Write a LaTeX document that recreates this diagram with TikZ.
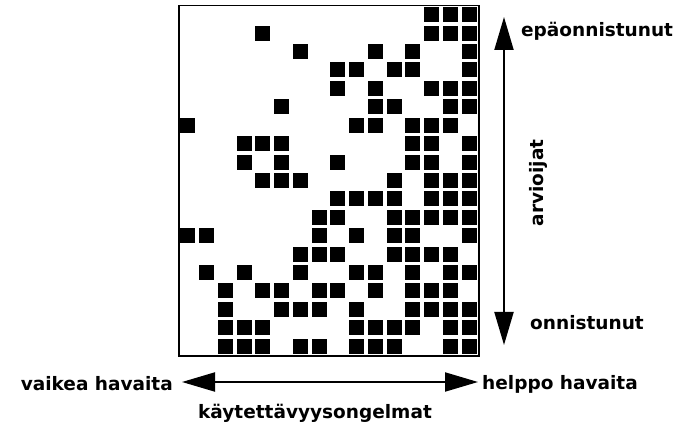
\documentclass[tikz,border=0pt]{standalone}
\usepackage{fontspec}
\setmainfont{DejaVu Sans}
\usetikzlibrary{arrows.meta}
\begin{document}
\begin{tikzpicture}[x=1pt,y=-1pt,
  cell/.style={fill=black, minimum size=15pt, inner sep=0pt, draw=none},
  lab/.style={font=\fontsize{18.5}{22}\selectfont\bfseries, inner sep=0pt},
  bigarrow/.style={line width=2pt, {Triangle[length=33pt,width=19pt]}-{Triangle[length=33pt,width=19pt]}}]
\useasboundingbox (0,0) rectangle (680,430);
\fill[white] (0,0) rectangle (680,430);
\node[draw, line width=1.5pt, minimum width=300pt, minimum height=350pt, inner sep=0pt, anchor=north west] (grid) at (178,5) {};
\foreach \r/\cols in {0/{13,14,15}, 1/{4,13,14,15}, 2/{6,10,12,15}, 3/{8,9,11,12,15},
  4/{8,10,13,14,15}, 5/{5,10,11,14,15}, 6/{0,9,10,12,13,14}, 7/{3,4,5,12,13,15},
  8/{3,5,8,12,13,15}, 9/{4,5,6,11,13,14,15}, 10/{8,9,10,11,13,14,15},
  11/{7,8,11,12,13,14,15}, 12/{0,1,7,9,11,12,15}, 13/{6,7,8,11,12,13,14},
  14/{1,3,6,9,10,12,14,15}, 15/{2,4,5,7,8,10,12,13,14}, 16/{2,5,6,7,9,12,13,14,15},
  17/{2,3,4,9,10,11,12,14,15}, 18/{2,3,4,6,7,9,10,11,14,15}}{
  \foreach \c in \cols {
    \node[cell] (c\r-\c) at ({178+18.75*\c+9.9},{5+18.42*\r+9.7}) {};
  }
}
\coordinate (hl) at (182,382);
\coordinate (hr) at (478,382);
\coordinate (vt) at (504,17);
\coordinate (vb) at (504,345);
\draw[bigarrow] (hl) -- (hr);
\draw[bigarrow] (vt) -- (vb);
\node[lab, anchor=east] (vaikea) at (173,384) {vaikea havaita};
\node[lab, anchor=west] (helppo) at (482,384) {helppo havaita};
\node[lab] (kayt) at (315,413) {käytettävyysongelmat};
\node[lab, anchor=west] (epa) at (521,31) {epäonnistunut};
\node[lab, anchor=west] (onn) at (530,323) {onnistunut};
\node[lab, rotate=90] (arv) at (538,183) {arvioijat};
\end{tikzpicture}
\end{document}
